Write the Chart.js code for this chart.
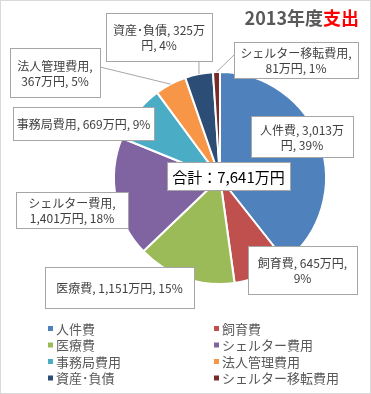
<!DOCTYPE html>
<html>
<head>
<meta charset="utf-8">
<script src="https://cdn.jsdelivr.net/npm/chart.js@4/dist/chart.umd.min.js"></script>
<style>
  html, body { margin: 0; padding: 0; background: #fff; }
  #wrap { width: 371px; height: 394px; position: relative; }
</style>
</head>
<body>
<div id="wrap"><canvas id="pieChart" width="371" height="394"></canvas></div>
<script>
// data (万円)
const categories = ["人件費", "飼育費", "医療費", "シェルター費用", "事務局費用", "法人管理費用", "資産･負債", "シェルター移転費用"];
const amounts = [3013, 645, 1151, 1401, 669, 367, 325, 81];
const percents = [39, 9, 15, 18, 9, 5, 4, 1];
const totalAmount = 7641;
const colors = ["#4F81BD", "#C0504D", "#9BBB59", "#8064A2", "#4BACC6", "#F79646", "#2C4D75", "#772C2A"];

// where each label box sits, and how many chars go on the first line (0 = one line)
const labelBoxes = [
  { x: 251, y: 116, w: 102, h: 41, wrap: 11 },
  { x: 248, y: 246, w: 109, h: 48, wrap: 11 },
  { x: 45, y: 267, w: 149, h: 41, wrap: 0 },
  { x: 16, y: 192, w: 112, h: 36, wrap: 8 },
  { x: 13, y: 107, w: 141, h: 33, wrap: 0 },
  { x: 10, y: 48, w: 90, h: 49, wrap: 7, anchor: [100, 67] },
  { x: 106, y: 13, w: 106, h: 48, wrap: 11 },
  { x: 234, y: 42, w: 124, h: 36, wrap: 10, anchor: [234, 55] }
];

const FONT = "'Noto Sans CJK JP', 'Noto Sans', sans-serif";

function fmt(n) {
  return n.toLocaleString("en-US");
}

function labelLines(i) {
  const full = `${categories[i]}, ${fmt(amounts[i])}万円, ${percents[i]}%`;
  const w = labelBoxes[i].wrap;
  if (!w) return [full];
  return [full.slice(0, w).trim(), full.slice(w).trim()];
}

const boxLabels = {
  id: "boxLabels",
  afterDatasetsDraw(chart) {
    const ctx = chart.ctx;
    const arcs = chart.getDatasetMeta(0).data;
    ctx.save();

    // leader lines
    arcs.forEach((arc, i) => {
      const p = arc.getProps(["x", "y", "startAngle", "endAngle", "outerRadius"], true);
      const mid = (p.startAngle + p.endAngle) / 2;
      const ex = p.x + Math.cos(mid) * p.outerRadius;
      const ey = p.y + Math.sin(mid) * p.outerRadius;
      const b = labelBoxes[i];
      let ax, ay;
      if (b.anchor) {
        [ax, ay] = b.anchor;
      } else {
        ax = Math.min(Math.max(ex, b.x), b.x + b.w);
        ay = Math.min(Math.max(ey, b.y), b.y + b.h);
      }
      const dc = Math.hypot(ax - p.x, ay - p.y);
      if (dc > p.outerRadius) {
        ctx.strokeStyle = "#A6A6A6";
        ctx.lineWidth = 1;
        ctx.beginPath();
        ctx.moveTo(ex, ey);
        ctx.lineTo(ax, ay);
        ctx.stroke();
      }
    });

    // boxes with text
    ctx.font = "12px " + FONT;
    ctx.textAlign = "center";
    ctx.textBaseline = "middle";
    arcs.forEach((arc, i) => {
      const b = labelBoxes[i];
      ctx.fillStyle = "#fff";
      ctx.fillRect(b.x, b.y, b.w, b.h);
      ctx.strokeStyle = "#A6A6A6";
      ctx.lineWidth = 1;
      ctx.strokeRect(b.x + 0.5, b.y + 0.5, b.w, b.h);
      const lines = labelLines(i);
      const cx = b.x + b.w / 2;
      const cy = b.y + b.h / 2 + 1;
      ctx.fillStyle = "#404040";
      lines.forEach((t, k) => {
        ctx.fillText(t, cx, cy + (k - (lines.length - 1) / 2) * 15);
      });
    });

    // total box
    const tb = { x: 167, y: 162, w: 123, h: 28 };
    ctx.fillStyle = "#fff";
    ctx.fillRect(tb.x, tb.y, tb.w, tb.h);
    ctx.strokeStyle = "#A6A6A6";
    ctx.strokeRect(tb.x + 0.5, tb.y + 0.5, tb.w, tb.h);
    ctx.fillStyle = "#000";
    ctx.font = "15px " + FONT;
    ctx.fillText(`合計：${fmt(totalAmount)}万円`, tb.x + tb.w / 2, tb.y + tb.h / 2 + 1);

    // title
    ctx.font = "bold 18px " + FONT;
    ctx.textAlign = "left";
    ctx.textBaseline = "alphabetic";
    const t1 = "2013年度", t2 = "支出";
    const w1 = ctx.measureText(t1).width, w2 = ctx.measureText(t2).width;
    const tx = 359 - w1 - w2;
    ctx.fillStyle = "#595959";
    ctx.fillText(t1, tx, 25);
    ctx.fillStyle = "#FF0000";
    ctx.fillText(t2, tx + w1, 25);

    // legend, two columns
    ctx.font = "13px " + FONT;
    ctx.textBaseline = "middle";
    categories.forEach((c, i) => {
      const col = i % 2, row = Math.floor(i / 2);
      const lx = col === 0 ? 48 : 214;
      const ly = 329 + row * 16.5;
      ctx.fillStyle = colors[i];
      ctx.fillRect(lx, ly - 3, 5, 5);
      ctx.fillStyle = "#595959";
      ctx.fillText(c, lx + 8, ly);
    });

    // outer frame
    ctx.strokeStyle = "#D9D9D9";
    ctx.strokeRect(0.5, 0.5, 370, 393);
    ctx.restore();
  }
};

new Chart(document.getElementById("pieChart"), {
  type: "pie",
  data: {
    labels: categories,
    datasets: [{
      data: amounts,
      backgroundColor: colors,
      borderColor: "#fff",
      borderWidth: 2,
      hoverOffset: 0
    }]
  },
  options: {
    responsive: false,
    animation: false,
    layout: { padding: { left: 113, top: 71, right: 44, bottom: 109 } },
    plugins: {
      legend: { display: false },
      tooltip: { enabled: false },
      title: { display: false }
    }
  },
  plugins: [boxLabels]
});
</script>
</body>
</html>
